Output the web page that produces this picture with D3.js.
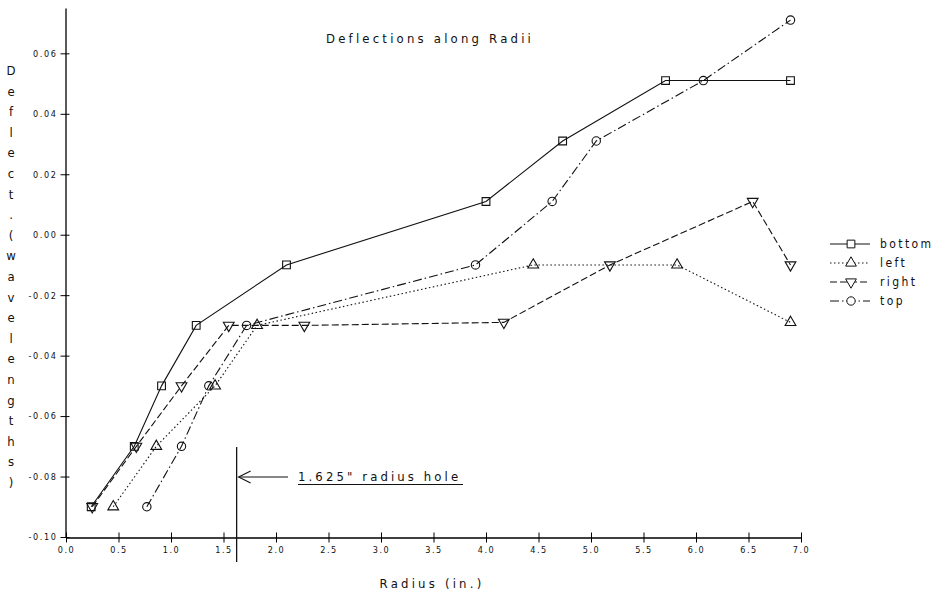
<!DOCTYPE html>
<html>
<head>
<meta charset="utf-8">
<script src="https://cdn.jsdelivr.net/npm/d3@7"></script>
<style>
  body { margin: 0; background: #fff; }
  svg text { font-family: "DejaVu Sans Condensed", "Liberation Sans Narrow", sans-serif; font-stretch: condensed; fill: #111; }
</style>
</head>
<body>
<div id="chart"></div>
<script>
// values
var seriesNames = ["bottom", "left", "right", "top"];
var bottomR = [0.24, 0.65, 0.91, 1.24, 2.1, 4.0, 4.73, 5.71, 6.9];
var bottomD = [-0.09, -0.07, -0.05, -0.03, -0.01, 0.011, 0.031, 0.051, 0.051];
var leftR = [0.45, 0.86, 1.42, 1.82, 4.45, 5.82, 6.9];
var leftD = [-0.09, -0.07, -0.05, -0.03, -0.01, -0.01, -0.029];
var rightR = [0.25, 0.67, 1.1, 1.55, 2.27, 4.17, 5.18, 6.54, 6.9];
var rightD = [-0.09, -0.07, -0.05, -0.03, -0.03, -0.029, -0.01, 0.011, -0.01];
var topR = [0.77, 1.1, 1.36, 1.72, 3.9, 4.63, 5.05, 6.07, 6.9];
var topD = [-0.09, -0.07, -0.05, -0.03, -0.01, 0.011, 0.031, 0.051, 0.071];
var xTicks = [0, 0.5, 1, 1.5, 2, 2.5, 3, 3.5, 4, 4.5, 5, 5.5, 6, 6.5, 7];
var yTicks = [-0.10, -0.08, -0.06, -0.04, -0.02, 0.00, 0.02, 0.04, 0.06];
var holeRadius = 1.625;

var svg = d3.select("#chart")
    .append("svg")
    .attr("width", 936)
    .attr("height", 592);

var x = d3.scaleLinear()
    .domain([0, 7])
    .range([66, 801]);
var y = d3.scaleLinear()
    .domain([-0.10, 0.075])
    .range([537, 8]);

// axes
var g = svg.append("g");
var gy = g.append("g")
    .attr("transform", `translate(${x(0) - 0.5},0)`)
    .call(d3.axisLeft(y).tickValues(yTicks).tickSizeInner(5).tickSizeOuter(0)
      .tickFormat(function (d) { return d.toFixed(2); }));
gy.select(".domain").attr("stroke-width", 1.3);
gy.selectAll(".tick line").attr("x1", 4).attr("x2", -5);
gy.selectAll(".tick text")
  .attr("x", -8)
  .style("font-size", "9px")
  .style("letter-spacing", "1.6px");

var gx = g.append("g")
    .attr("transform", `translate(0,${y(-0.10) + 0.5})`)
    .call(d3.axisBottom(x).tickValues(xTicks).tickSizeInner(5).tickSizeOuter(0)
      .tickFormat(function (d) { return d.toFixed(1); }));
gx.select(".domain").attr("stroke-width", 1.3);
gx.selectAll(".tick line").attr("y1", -5).attr("y2", 5);
gx.selectAll(".tick text")
  .attr("y", 9)
  .style("font-size", "9px")
  .style("letter-spacing", "1.6px");

// titles
svg.append('text')
  .attr('x', 430)
  .attr('y', 43)
  .attr('text-anchor', 'middle')
  .style('font-size', '13px')
  .style('letter-spacing', '3.2px')
  .text('Deflections along Radii');

svg.append('text')
  .attr('x', 432)
  .attr('y', 588)
  .attr('text-anchor', 'middle')
  .style('font-size', '13px')
  .style('letter-spacing', '3.2px')
  .text('Radius (in.)');

var yLabel = "Deflect. (wavelengths)".split("").filter(function (c) { return c !== " "; });
svg.append('g').selectAll('text')
  .data(yLabel)
  .enter().append('text')
    .attr('x', 11)
    .attr('y', function (d, i) { return 75 + i * 20.6; })
    .attr('text-anchor', 'middle')
    .style('font-size', '13px')
    .text(function (d) { return d; });

// series
var series = [
  {name: seriesNames[0], r: bottomR, d: bottomD, dash: null, sym: d3.symbolSquare, size: 60, rot: 0},
  {name: seriesNames[1], r: leftR, d: leftD, dash: "1.5,2.5", sym: d3.symbolTriangle, size: 50, rot: 0},
  {name: seriesNames[2], r: rightR, d: rightD, dash: "7,3", sym: d3.symbolTriangle, size: 50, rot: 180},
  {name: seriesNames[3], r: topR, d: topD, dash: "9,3,1.5,3", sym: d3.symbolCircle, size: 55, rot: 0}
];

var line = d3.line()
    .x(function (p) { return x(p[0]); })
    .y(function (p) { return y(p[1]); });

series.forEach(function (s) {
  var pts = s.r.map(function (r, i) { return [r, s.d[i]]; });
  svg.append("path")
    .attr("d", line(pts))
    .attr("fill", "none")
    .attr("stroke", "#111")
    .attr("stroke-width", 1.1)
    .attr("stroke-dasharray", s.dash);
  svg.append("g").selectAll("path")
    .data(pts)
    .enter().append("path")
      .attr("d", d3.symbol().type(s.sym).size(s.size))
      .attr("transform", function (p) { return `translate(${x(p[0])},${y(p[1])}) rotate(${s.rot})`; })
      .attr("fill", "none")
      .attr("stroke", "#111")
      .attr("stroke-width", 1.1);
});

// legend
var leg = svg.append("g").attr("transform", "translate(830,244)");
series.forEach(function (s, i) {
  var row = leg.append("g").attr("transform", `translate(0,${i * 19})`);
  row.append("line")
    .attr("x1", 0).attr("x2", 40)
    .attr("stroke", "#111")
    .attr("stroke-width", 1)
    .attr("stroke-dasharray", s.dash);
  row.append("path")
    .attr("d", d3.symbol().type(s.sym).size(s.size))
    .attr("transform", `translate(21,0) rotate(${s.rot})`)
    .attr("fill", "#fff")
    .attr("stroke", "#111");
  row.append("text")
    .attr("x", 50)
    .attr("y", 4)
    .style("font-size", "12px")
    .style("letter-spacing", "2.4px")
    .text(s.name);
});

// hole annotation
var hx = x(holeRadius);
svg.append("line")
  .attr("x1", hx).attr("x2", hx)
  .attr("y1", 447).attr("y2", 562)
  .attr("stroke", "#111").attr("stroke-width", 1.3);
svg.append("line")
  .attr("x1", hx + 2).attr("x2", 288)
  .attr("y1", 477).attr("y2", 477)
  .attr("stroke", "#111").attr("stroke-width", 1.1);
svg.append("path")
  .attr("d", `M${hx + 14},471 L${hx + 2},477 L${hx + 14},483`)
  .attr("fill", "none").attr("stroke", "#111").attr("stroke-width", 1.1);
svg.append("text")
  .attr("x", 298)
  .attr("y", 481)
  .style("font-size", "13px")
  .style("letter-spacing", "3.1px")
  .text('1.625" radius hole');
svg.append("line")
  .attr("x1", 298).attr("x2", 463)
  .attr("y1", 484.5).attr("y2", 484.5)
  .attr("stroke", "#111").attr("stroke-width", 1.1);
</script>
</body>
</html>
